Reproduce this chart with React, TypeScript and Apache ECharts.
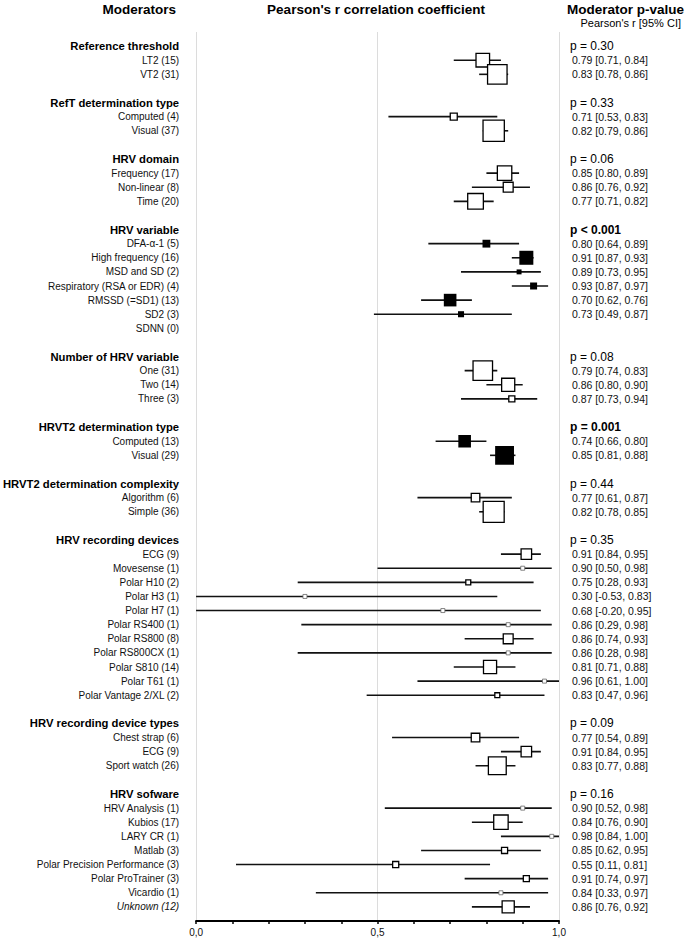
import React, { useEffect, useRef } from "react";
import * as echarts from "echarts";

// ---------- data ----------
const groupTitles = [
  "Reference threshold",
  "RefT determination type",
  "HRV domain",
  "HRV variable",
  "Number of HRV variable",
  "HRVT2 determination type",
  "HRVT2 determination complexity",
  "HRV recording devices",
  "HRV recording device types",
  "HRV sofware",
];
const groupPValues = ["p = 0.30", "p = 0.33", "p = 0.06", "p < 0.001", "p = 0.08", "p = 0.001", "p = 0.44", "p = 0.35", "p = 0.09", "p = 0.16"];
const groupSignificant = [false, false, false, true, false, true, false, false, false, false];
const groupSizes = [2, 2, 3, 7, 3, 2, 2, 11, 3, 8];

const itemLabels = [
  "LT2 (15)", "VT2 (31)",
  "Computed (4)", "Visual (37)",
  "Frequency (17)", "Non-linear (8)", "Time (20)",
  "DFA-α-1 (5)", "High frequency (16)", "MSD and SD (2)", "Respiratory (RSA or EDR) (4)", "RMSSD (=SD1) (13)", "SD2 (3)", "SDNN (0)",
  "One (31)", "Two (14)", "Three (3)",
  "Computed (13)", "Visual (29)",
  "Algorithm (6)", "Simple (36)",
  "ECG (9)", "Movesense (1)", "Polar H10 (2)", "Polar H3 (1)", "Polar H7 (1)", "Polar RS400 (1)", "Polar RS800 (8)", "Polar RS800CX (1)", "Polar S810 (14)", "Polar T61 (1)", "Polar Vantage 2/XL (2)",
  "Chest strap (6)", "ECG (9)", "Sport watch (26)",
  "HRV Analysis (1)", "Kubios (17)", "LARY CR (1)", "Matlab (3)", "Polar Precision Performance (3)", "Polar ProTrainer (3)", "Vicardio (1)", "Unknown (12)",
];
const itemR = [
  0.79, 0.83,
  0.71, 0.82,
  0.85, 0.86, 0.77,
  0.80, 0.91, 0.89, 0.93, 0.70, 0.73, null,
  0.79, 0.86, 0.87,
  0.74, 0.85,
  0.77, 0.82,
  0.91, 0.90, 0.75, 0.30, 0.68, 0.86, 0.86, 0.86, 0.81, 0.96, 0.83,
  0.77, 0.91, 0.83,
  0.90, 0.84, 0.98, 0.85, 0.55, 0.91, 0.84, 0.86,
];
const itemLow = [
  0.71, 0.78,
  0.53, 0.79,
  0.80, 0.76, 0.71,
  0.64, 0.87, 0.73, 0.87, 0.62, 0.49, null,
  0.74, 0.80, 0.73,
  0.66, 0.81,
  0.61, 0.78,
  0.84, 0.50, 0.28, -0.53, -0.20, 0.29, 0.74, 0.28, 0.71, 0.61, 0.47,
  0.54, 0.84, 0.77,
  0.52, 0.76, 0.84, 0.62, 0.11, 0.74, 0.33, 0.76,
];
const itemHigh = [
  0.84, 0.86,
  0.83, 0.86,
  0.89, 0.92, 0.82,
  0.89, 0.93, 0.95, 0.97, 0.76, 0.87, null,
  0.83, 0.90, 0.94,
  0.80, 0.88,
  0.87, 0.85,
  0.95, 0.98, 0.93, 0.83, 0.95, 0.98, 0.93, 0.98, 0.88, 1.0, 0.96,
  0.89, 0.95, 0.88,
  0.98, 0.90, 1.0, 0.95, 0.81, 0.97, 0.97, 0.92,
];
const itemN = [
  15, 31,
  4, 37,
  17, 8, 20,
  5, 16, 2, 4, 13, 3, 0,
  31, 14, 3,
  13, 29,
  6, 36,
  9, 1, 2, 1, 1, 1, 8, 1, 14, 1, 2,
  6, 9, 26,
  1, 17, 1, 3, 3, 3, 1, 12,
];
const xTickLabels = ["0,0", "0,5", "1,0"];

// ---------- build rows ----------
type Row = { kind: "h" | "i" | "b"; left: string; right: string; sig?: boolean; item?: number; italic?: boolean };
function buildRows(): Row[] {
  const rows: Row[] = [];
  let k = 0;
  groupTitles.forEach((g, gi) => {
    rows.push({ kind: "h", left: g, right: groupPValues[gi], sig: groupSignificant[gi] });
    for (let j = 0; j < groupSizes[gi]; j++) {
      const r = itemR[k];
      const txt = r == null ? "" : `${r.toFixed(2)} [${(itemLow[k] as number).toFixed(2)}, ${(itemHigh[k] as number).toFixed(2)}]`;
      rows.push({ kind: "i", left: itemLabels[k], right: txt, sig: groupSignificant[gi], item: k, italic: itemLabels[k].startsWith("Unknown") });
      k++;
    }
    if (gi < groupTitles.length - 1) rows.push({ kind: "b", left: "", right: "" });
  });
  return rows;
}

const FONT = "'Liberation Sans', Arial, Helvetica, sans-serif";

export default function App() {
  const ref = useRef<HTMLDivElement>(null);
  useEffect(() => {
    if (!ref.current) return;
    document.body.style.margin = "0";
    const chart = echarts.init(ref.current, null, { renderer: "svg" });
    const rows = buildRows();
    const cats = ["top", ...rows.map((_, i) => "r" + i), "bottom"];
    const data: any[] = [];
    rows.forEach((row, i) => {
      if (row.kind !== "i" || row.item == null) return;
      const k = row.item;
      if (itemR[k] == null) return;
      data.push([itemR[k], itemLow[k], itemHigh[k], i + 1, itemN[k], row.sig ? 1 : 0]);
    });
    const leftFmt = (_v: string, idx: number) => {
      const row = rows[idx - 1];
      if (!row || !row.left) return "";
      if (row.kind === "h") return `{h|${row.left}}`;
      return row.italic ? `{it|${row.left}}` : `{i|${row.left}}`;
    };
    const rightFmt = (_v: string, idx: number) => {
      const row = rows[idx - 1];
      if (!row || !row.right) return "";
      if (row.kind === "h") return row.sig ? `{pb|${row.right}}` : `{p|${row.right}}`;
      return `{v|${row.right}}`;
    };
    const option: any = {
      animation: false,
      textStyle: { fontFamily: FONT },
      grid: { left: 193, right: 126, top: 32, bottom: 17, containLabel: false },
      xAxis: {
        type: "value",
        min: 0,
        max: 1,
        interval: 0.5,
        axisLine: { show: true, lineStyle: { color: "#000", width: 2 } },
        axisTick: { show: true, length: 3, lineStyle: { color: "#000", width: 1.5 } },
        minorTick: { show: true, splitNumber: 5, length: 3, lineStyle: { color: "#000", width: 1.5 } },
        splitLine: { show: true, lineStyle: { color: "#dcdcdc", width: 1 } },
        axisLabel: {
          margin: 6,
          color: "#111",
          fontSize: 10,
          fontFamily: FONT,
          formatter: (v: number) => xTickLabels[Math.round(v * 2)] ?? "",
        },
      },
      yAxis: [
        {
          type: "category",
          data: cats,
          inverse: true,
          boundaryGap: false,
          axisLine: { show: false },
          axisTick: { show: false },
          splitLine: { show: false },
          axisLabel: {
            interval: 0,
            margin: 17,
            formatter: leftFmt,
            rich: {
              h: { fontSize: 11.25, fontWeight: "bold", color: "#000", fontFamily: FONT },
              i: { fontSize: 10, color: "#111", fontFamily: FONT },
              it: { fontSize: 10, color: "#111", fontStyle: "italic", fontFamily: FONT },
            },
          },
        },
        {
          type: "category",
          data: cats,
          inverse: true,
          boundaryGap: false,
          position: "right",
          axisLine: { show: false },
          axisTick: { show: false },
          splitLine: { show: false },
          axisLabel: {
            interval: 0,
            margin: 11,
            align: "left",
            formatter: rightFmt,
            rich: {
              p: { fontSize: 12, color: "#000", fontFamily: FONT },
              pb: { fontSize: 12, fontWeight: "bold", color: "#000", fontFamily: FONT },
              v: { fontSize: 10.5, color: "#111", fontFamily: FONT, padding: [0, 0, 0, 2] },
            },
          },
        },
      ],
      graphic: [
        { type: "text", x: 176, y: 9, style: { text: "Moderators", font: `bold 13.5px ${FONT}`, fill: "#000", align: "right", verticalAlign: "middle" } },
        { type: "text", x: 376, y: 9, style: { text: "Pearson's r correlation coefficient", font: `bold 13.5px ${FONT}`, fill: "#000", align: "center", verticalAlign: "middle" } },
        { type: "text", x: 684, y: 9, style: { text: "Moderator p-value", font: `bold 13.5px ${FONT}`, fill: "#000", align: "right", verticalAlign: "middle" } },
        { type: "text", x: 681, y: 23, style: { text: "Pearson's r [95% CI]", font: `11px ${FONT}`, fill: "#000", align: "right", verticalAlign: "middle" } },
      ],
      series: [
        {
          type: "custom",
          clip: false,
          xAxisIndex: 0,
          yAxisIndex: 0,
          encode: { x: [0, 1, 2], y: 3 },
          data,
          renderItem: (_p: any, api: any) => {
            const r = api.value(0);
            const lo = Math.max(0, api.value(1));
            const hi = Math.min(1, api.value(2));
            const yi = api.value(3);
            const n = api.value(4);
            const filled = api.value(5) === 1;
            const a = api.coord([lo, yi]);
            const b = api.coord([hi, yi]);
            const c = api.coord([r, yi]);
            const s = Math.max(4, 3.5 * Math.sqrt(n));
            const tiny = n <= 1;
            return {
              type: "group",
              children: [
                { type: "line", shape: { x1: a[0], y1: a[1], x2: b[0], y2: b[1] }, style: { stroke: "#111", lineWidth: 1.6 } },
                {
                  type: "rect",
                  shape: { x: c[0] - s / 2, y: c[1] - s / 2, width: s, height: s },
                  style: {
                    fill: filled ? "#000" : "#fff",
                    stroke: tiny ? "#666" : "#000",
                    lineWidth: filled ? 0 : tiny ? 0.8 : 1.3,
                  },
                },
              ],
            };
          },
        },
      ],
    };
    chart.setOption(option);
    return () => chart.dispose();
  }, []);
  return <div ref={ref} style={{ position: "absolute", left: 0, top: 0, width: 685, height: 938 }} />;
}
